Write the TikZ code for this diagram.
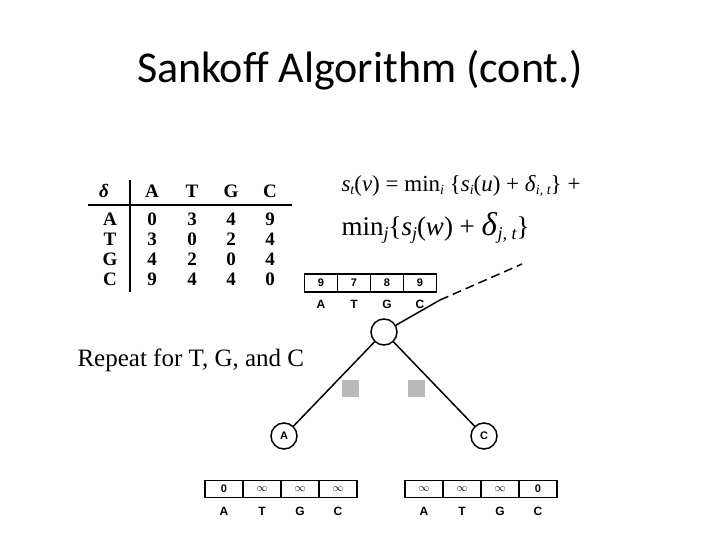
\documentclass[tikz,border=0pt]{standalone}
\usepackage{fontspec}
\setmainfont{Liberation Serif}
\newfontfamily\calfont{Carlito}
\newfontfamily\hvfont{Liberation Sans}
\newcommand\lsubA[1]{\raisebox{-0.3ex}{\fontsize{14}{14}\selectfont\itshape #1}}
\newcommand\lsubB[1]{\raisebox{-0.3ex}{\fontsize{18}{18}\selectfont\itshape #1}}
\begin{document}
\begin{tikzpicture}[x=1pt,y=-1pt,
  cell/.style={draw,line width=1.3pt,minimum width=33pt,minimum height=17pt,inner sep=0pt,font=\hvfont\bfseries\fontsize{11}{11}\selectfont},
  lab/.style={font=\hvfont\bfseries\fontsize{12}{12}\selectfont},
  tnode/.style={draw,circle,line width=1.5pt,minimum size=26pt,inner sep=0pt,font=\hvfont\bfseries\fontsize{11}{11}\selectfont},
  tab/.style={font=\fontsize{19}{19}\selectfont\bfseries},
  edge/.style={line width=1.5pt}]
\useasboundingbox (0,0) rectangle (720,540);
\node[font=\calfont\fontsize{44}{44}\selectfont] (title) at (360,70) {Sankoff Algorithm (cont.)};
% table
\draw[line width=1.8pt] (130,180) -- (130,292);
\draw[line width=1.8pt] (88,205) -- (292,205);
\node[tab] (h0) at (104,191) {\itshape δ};
\foreach \c/\x in {A/152,T/192,G/231,C/270}{\node[tab] (h\c) at (\x,191) {\c};}
\foreach \r/\y/\a/\b/\cc/\d in {A/219/0/3/4/9,T/239/3/0/2/4,G/259/4/2/0/4,C/279/9/4/4/0}{
  \node[tab] (r\r) at (110,\y) {\r};
  \node[tab] (r\r1) at (152,\y) {\a};
  \node[tab] (r\r2) at (192,\y) {\b};
  \node[tab] (r\r3) at (231,\y) {\cc};
  \node[tab] (r\r4) at (270,\y) {\d};}
% formula
\node[anchor=west,font=\fontsize{23}{23}\selectfont] (f1) at (338,186) {\textit{s}\lsubA{t}(\textit{v}) = min\lsubA{i} \{\textit{s}\lsubA{i}(\textit{u}) + \textit{δ}\lsubA{i, t}\} +};
\node[anchor=west,font=\fontsize{27}{27}\selectfont] (f2) at (338,228) {min\lsubB{j}\{\textit{s}\lsubB{j}(\textit{w}) + {\fontsize{33}{33}\selectfont\textit{δ}}\lsubB{j, t}\}};
\node[anchor=west,font=\fontsize{25}{25}\selectfont] (rep) at (74,360) {Repeat for T, G, and C};
% top array
\foreach \v/\x/\l [count=\i] in {9/321/A,7/354/T,8/387/G,9/420/C}{
  \node[cell,minimum height=18pt] (t\i) at (\x,283) {\v};
  \node[lab] (tl\i) at (\x,304) {\l};}
% tree
\node[tnode] (root) at (384,332) {};
\node[tnode] (na) at (284,436) {A};
\node[tnode] (nc) at (484,436) {C};
\coordinate (p) at (440,300);
\coordinate (q) at (522,264);
\draw[edge] (root) -- (p);
\draw[edge,dashed,dash pattern=on 9pt off 5pt] (p) -- (q);
\draw[edge] (root) -- (na);
\draw[edge] (root) -- (nc);
\fill[gray!55] (342,380) rectangle (359,397);
\fill[gray!55] (408,380) rectangle (425,397);
% bottom arrays
\foreach \v/\x/\l [count=\i] in {0/224/A,$\infty$/262/T,$\infty$/300/G,$\infty$/338/C}{
  \node[cell,minimum width=38pt] (a\i) at (\x,489) {\v};
  \node[lab] (al\i) at (\x,511) {\l};}
\foreach \v/\x/\l [count=\i] in {$\infty$/424/A,$\infty$/462/T,$\infty$/500/G,0/538/C}{
  \node[cell,minimum width=38pt] (c\i) at (\x,489) {\v};
  \node[lab] (cl\i) at (\x,511) {\l};}
\end{tikzpicture}
\end{document}
